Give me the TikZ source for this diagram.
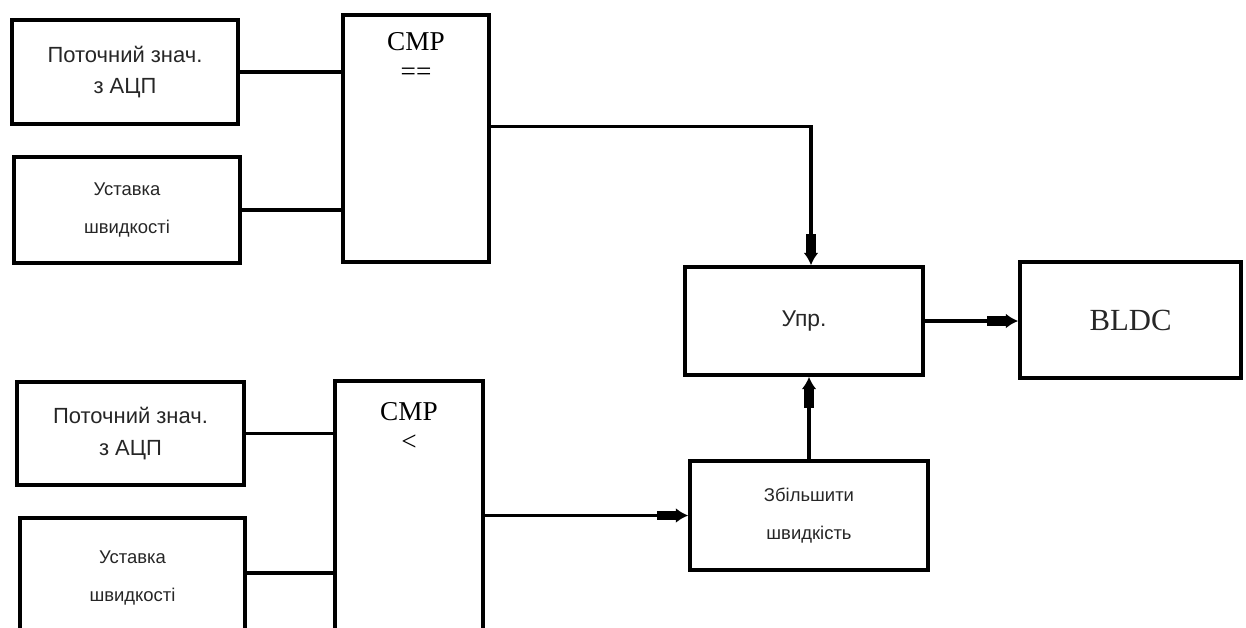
\documentclass[tikz,border=0pt]{standalone}
\usepackage{fontspec}
\setmainfont{Liberation Serif}
\newfontfamily\uafont{Liberation Sans}
\usetikzlibrary{arrows.meta}
\usetikzlibrary{positioning}

\begin{document}
\begin{tikzpicture}[x=0.02cm,y=-0.02cm]
  \tikzset{block/.style = {shape=rectangle,draw,line width=2.1pt,inner sep=0pt,align=center,text=black!85}}
  \tikzset{bigua/.style = {font=\uafont\fontsize{12.5}{18}\selectfont}}
  \tikzset{smallua/.style = {font=\uafont\fontsize{10.5}{22}\selectfont}}
  \tikzset{cmptext/.style = {inner sep=0pt,align=center,font=\fontsize{15.5}{17}\selectfont}}
  \tikzset{wire/.style = {line width=2pt}}
  \tikzset{arr/.style = {wire,-{Rectangle[length=11pt,width=5.5pt,sep=0pt]Latex[length=7pt,width=8.5pt]}}}

  \useasboundingbox (0,0) rectangle (1246,627);
  \clip (0,0) rectangle (1246,627);

	\node[block,bigua,minimum width=4.52cm,minimum height=2.08cm] (cur1) at (125,72) {Поточний знач.\\з АЦП};
	\node[block,smallua,minimum width=4.52cm,minimum height=2.12cm] (set1) at (127,210) {Уставка\\швидкості};
	\node[block,minimum width=2.92cm,minimum height=4.94cm] (cmp1) at (416,138.5) {};
	\node[cmptext,below=11pt of cmp1.north] (cmp1lbl) {CMP\\==};

	\node[block,bigua,minimum width=4.54cm,minimum height=2.06cm] (cur2) at (130.5,433.5) {Поточний знач.\\з АЦП};
	\node[block,smallua,minimum width=4.5cm,minimum height=2.4cm] (set2) at (132.5,578) {Уставка\\швидкості};
	\node[block,minimum width=2.96cm,minimum height=5.34cm] (cmp2) at (409,514.5) {};
	\node[cmptext,below=13pt of cmp2.north] (cmp2lbl) {CMP\\<};

	\node[block,font=\uafont\fontsize{13}{15}\selectfont,minimum width=4.76cm,minimum height=2.16cm] (ctrl) at (804,321) {Упр.};
	\node[block,smallua,minimum width=4.76cm,minimum height=2.18cm] (inc) at (809,515.5) {Збільшити\\швидкість};
	\node[block,font=\fontsize{17.5}{20}\selectfont,minimum width=4.42cm,minimum height=2.32cm] (bldc) at (1130.5,320) {BLDC};

	\coordinate (cmp1out) at ([yshift=0.24cm]cmp1.east);
	\coordinate (ctrlin) at ([xshift=0.14cm]ctrl.north);
	\coordinate (set2out) at ([yshift=0.1cm]set2.east);

       \foreach \from/\to in {cur1/cmp1, set1/cmp1, cur2/cmp2}
    \draw[wire] (\from.east) -- (\from.east -| \to.west);
	\draw[wire] (set2out) -- (set2out -| cmp2.west);

	\draw[arr] (cmp1out) -| (ctrlin);
	\draw[arr] (cmp2.east |- inc.west) -- (inc.west);
	\draw[arr] (inc.north) -- (inc.north |- ctrl.south);
	\draw[arr] (ctrl.east) -- (ctrl.east -| bldc.west);
\end{tikzpicture}
\end{document}
